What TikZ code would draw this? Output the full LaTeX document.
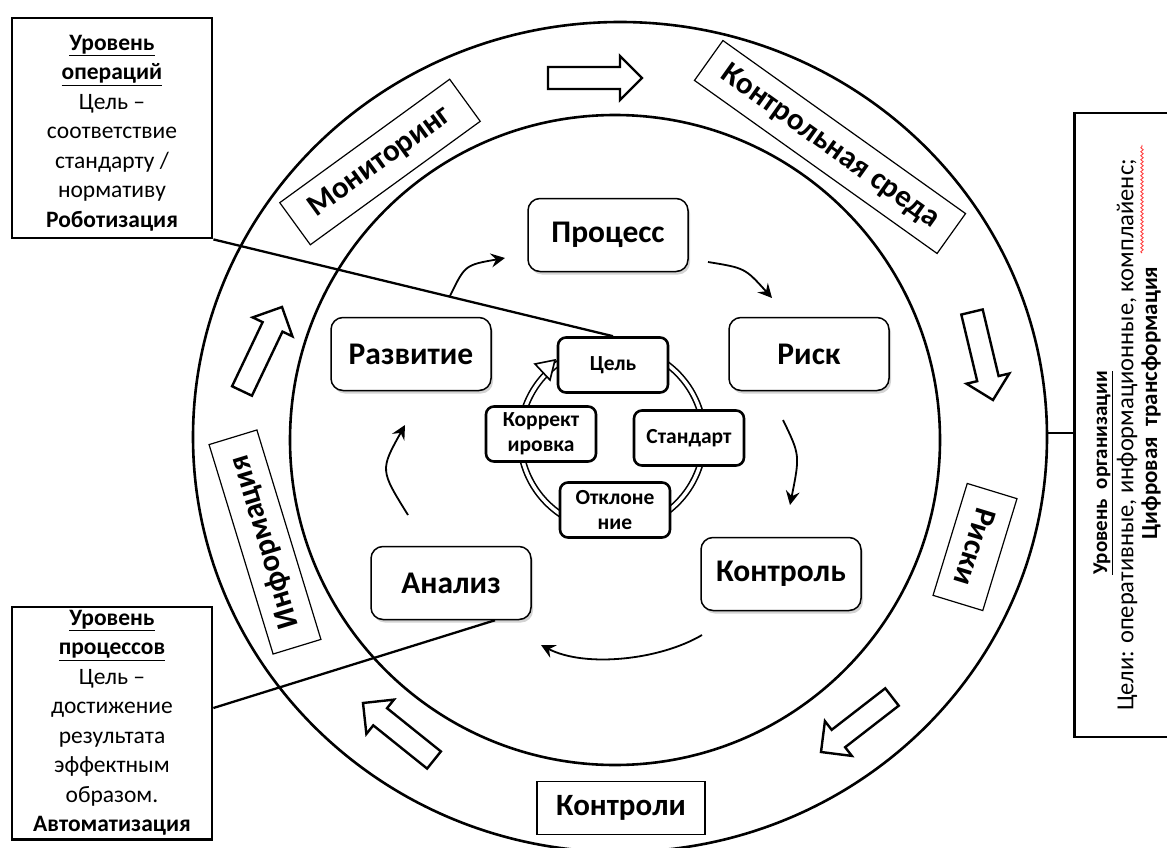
\documentclass[tikz,border=0pt]{standalone}
\usepackage{fontspec}
\setmainfont{Carlito}
\usetikzlibrary{calc,shadows,arrows.meta,decorations.pathmorphing}
\newcommand{\blockarr}[2]{%
  \coordinate (ba-B) at ($(#2)!22pt!(#1)$);
  \draw[blockarrow] ($(#1)!11pt!90:(#2)$) -- ($(ba-B)!11pt!-90:(#1)$) -- ($(ba-B)!22pt!-90:(#1)$) -- (#2) -- ($(ba-B)!22pt!90:(#1)$) -- ($(ba-B)!11pt!90:(#1)$) -- ($(#1)!11pt!-90:(#2)$) -- cycle;}
\begin{document}
\begin{tikzpicture}[x=1pt,y=-1pt,
  mainbox/.style={draw, line width=1.5pt, rounded corners=12pt, fill=white, minimum width=160pt, minimum height=73pt, font=\fontsize{31.5}{36}\selectfont\bfseries, drop shadow={shadow xshift=2pt, shadow yshift=-3pt, opacity=0.35}},
  smallbox/.style={draw, line width=2.6pt, rounded corners=8pt, fill=white, minimum width=110pt, minimum height=55pt, align=center, font=\fontsize{21.5}{25}\selectfont\bfseries, inner sep=1pt},
  ringlabel/.style={draw, line width=1.2pt, fill=white, font=\fontsize{31}{36}\selectfont\bfseries, inner sep=0pt},
  sidebox/.style={draw, line width=2.8pt, fill=white, align=center, font=\fontsize{23.5}{29.5}\selectfont},
  flowarrow/.style={line width=1.8pt, -{Stealth[length=14pt,width=14pt,inset=5pt]}},
  blockarrow/.style={draw, line width=2.4pt, fill=white, line join=miter},
  link/.style={line width=2.3pt}]
\useasboundingbox (0,0) rectangle (1167,848);
\clip (0,0) rectangle (1167,848);

% rings
\draw[line width=2.6pt] (620,437) ellipse [x radius=427, y radius=415];
\draw[line width=2.6pt] (615,440) circle [radius=325];

% block arrows on the outer ring
\coordinate (ba1t) at (548,78);  \coordinate (ba1h) at (642,78);
\coordinate (ba2t) at (972,312); \coordinate (ba2h) at (993,400);
\coordinate (ba3t) at (892,697); \coordinate (ba3h) at (821,752);
\coordinate (ba4t) at (434,760); \coordinate (ba4h) at (363,703);
\coordinate (ba5t) at (242,391); \coordinate (ba5h) at (282,307);
\blockarr{ba1t}{ba1h}
\blockarr{ba2t}{ba2h}
\blockarr{ba3t}{ba3h}
\blockarr{ba4t}{ba4h}
\blockarr{ba5t}{ba5h}

% labels on the outer ring
\node[ringlabel, minimum width=210pt, minimum height=52pt, rotate=36] (mon) at (380,162) {Мониторинг};
\node[ringlabel, minimum width=298pt, minimum height=49pt, rotate=-35.5] (env) at (830,147) {Контрольная среда};
\node[ringlabel, minimum width=117pt, minimum height=52pt, rotate=-107] (risks) at (975,547) {Риски};
\node[ringlabel, minimum width=219pt, minimum height=50pt, rotate=107] (info) at (265,542) {Информация};
\node[ringlabel, minimum width=168pt, minimum height=53pt] (ctrls) at (621,808) {Контроли};

% central cycle
\draw[line width=1.6pt, double, double distance=3.5pt] (612,438) circle [radius=92];
\draw[line width=1.6pt, fill=white, line join=miter] (555,360) -- (550,380) -- (535,364) -- cycle;
\node[smallbox] (goal) at (613,365) {Цель};
\node[smallbox] (std) at (689,438) {Стандарт};
\node[smallbox] (corr) at (541,434) {Коррект\\ировка};
\node[smallbox] (devi) at (615,510) {Отклоне\\ние};

% main process nodes
\node[mainbox] (proc) at (608,235) {Процесс};
\node[mainbox] (risk) at (809,354) {Риск};
\node[mainbox] (dev) at (411,354) {Развитие};
\node[mainbox] (ctrl) at (781,574) {Контроль};
\node[mainbox] (anal) at (451,583) {Анализ};

% flow arrows
\coordinate (f1s) at (708,262); \coordinate (f1e) at (772,298);
\coordinate (f2s) at (783,420); \coordinate (f2e) at (790,505);
\coordinate (f3s) at (702,635); \coordinate (f3e) at (541,645);
\coordinate (f4s) at (408,515); \coordinate (f4e) at (405,425);
\coordinate (f5s) at (450,296); \coordinate (f5e) at (505,258);
\draw[flowarrow] (f1s) .. controls (745,268) .. (f1e);
\draw[flowarrow] (f2s) .. controls (800,455) .. (f2e);
\draw[flowarrow] (f3s) .. controls (660,660) and (585,668) .. (f3e);
\draw[flowarrow] (f4s) .. controls (380,470) .. (f4e);
\draw[flowarrow] (f5s) .. controls (465,265) .. (f5e);

% side boxes
\node[sidebox, minimum width=200pt, minimum height=220pt] (tlbox) at (112,128) {};
\node[font=\fontsize{23.5}{29.5}\selectfont, align=center] (tltext) at (112,133) {\underline{\textbf{Уровень}}\\\underline{\textbf{операций}}\\Цель –\\соответствие\\стандарту /\\нормативу\\\textbf{Роботизация}};
\node[sidebox, minimum width=200pt, minimum height=230pt] (blbox) at (112,723) {\underline{\textbf{Уровень}}\\\underline{\textbf{процессов}}\\Цель –\\достижение\\результата\\эффектным\\образом.\\\textbf{Автоматизация}};
\node[draw, line width=2.8pt, fill=white, minimum width=115pt, minimum height=624pt] (rbox) at (1132,425) {};
\node[rotate=90, font=\fontsize{21}{24}\selectfont\bfseries] (r1) at (1103,473) {\underline{Уровень\ \ организации}};
\node[rotate=90, font=\fontsize{24.5}{26}\selectfont] (r2) at (1127,435) {Цели: оперативные, информационные, комплайенс;};
\node[rotate=90, font=\fontsize{23}{26}\selectfont\bfseries] (r3) at (1151,403) {Цифровая\ \ трансформация};
\draw[red!80, line width=0.8pt, decorate, decoration={snake, amplitude=1.2pt, segment length=4pt}] (1142,253) -- (1142,145);

% connectors
\coordinate (analfoot) at ([xshift=44pt]anal.south);
\coordinate (ringE) at (1047,433);
\draw[link] (tlbox.south east) -- (goal.north);
\draw[link] (analfoot) -- ([yshift=15pt]blbox.east);
\draw[link] (ringE) -- (ringE -| rbox.west);
\end{tikzpicture}
\end{document}
